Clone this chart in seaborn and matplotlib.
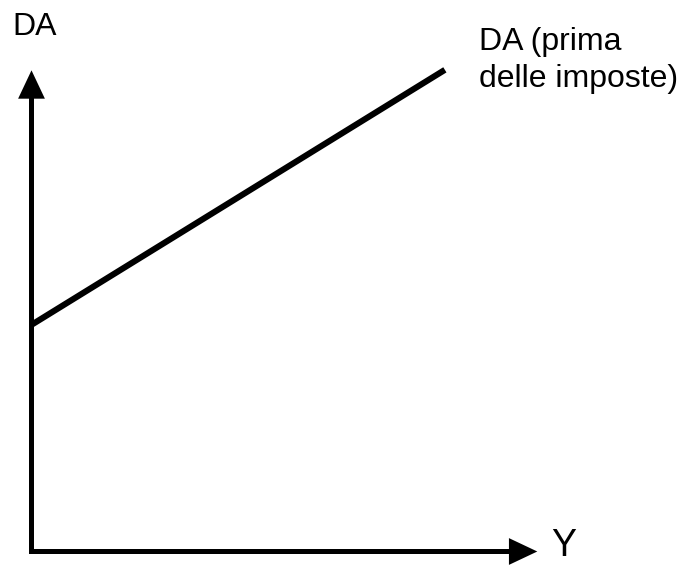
import matplotlib
matplotlib.use("Agg")
import matplotlib.pyplot as plt
import seaborn as sns
import pandas as pd

# Data (conceptual units)
y_income = [0.0, 8.05]
da_values = [4.64, 9.86]
x_label = "Y"
y_label = "DA"
line_label = ["DA (prima", "delle imposte)"]

sns.set_theme(style="white")
plt.rcParams['font.family'] = ['Liberation Sans', 'DejaVu Sans']
plt.rcParams['text.color'] = 'black'

W, H = 681, 565
fig = plt.figure(figsize=(W / 100, H / 100), dpi=100)
ox, oy = 31.5, 551.5
tipx, tipy = 545, 63
ax = fig.add_axes([ox / W, (H - oy) / H, (tipx - ox) / W, (oy - tipy) / H])
ax.set_xlim(0, 10)
ax.set_ylim(0, 10)
ax.axis('off')

df = pd.DataFrame({"Y": y_income, "DA": da_values})
sns.lineplot(data=df, x="Y", y="DA", ax=ax, color="black", linewidth=4.4,
             solid_capstyle="butt", clip_on=False)

lw = 3.6
arrow = dict(arrowstyle="-|>,head_length=0.72,head_width=0.34", mutation_scale=20,
             color="black", lw=lw, shrinkA=0, shrinkB=0, capstyle="butt", joinstyle="miter")
ax.annotate("", xy=(0.985, 0), xytext=(-2.5 / (tipx - ox), 0),
            xycoords="axes fraction", textcoords="axes fraction", arrowprops=arrow)
ax.annotate("", xy=(0, 0.985), xytext=(0, -2.5 / (oy - tipy)),
            xycoords="axes fraction", textcoords="axes fraction", arrowprops=arrow)

fig.text(12 / W, 1 - 35 / H, y_label, fontsize=23, va="baseline", ha="left", color="black")
fig.text(479 / W, 1 - 50 / H, line_label[0], fontsize=23, va="baseline", ha="left", color="black")
fig.text(479 / W, 1 - 87 / H, line_label[1], fontsize=23, va="baseline", ha="left", color="black")
fig.text(551 / W, 1 - 556 / H, x_label, fontsize=27, va="baseline", ha="left", color="black")

fig.savefig("out.png", dpi=100)
